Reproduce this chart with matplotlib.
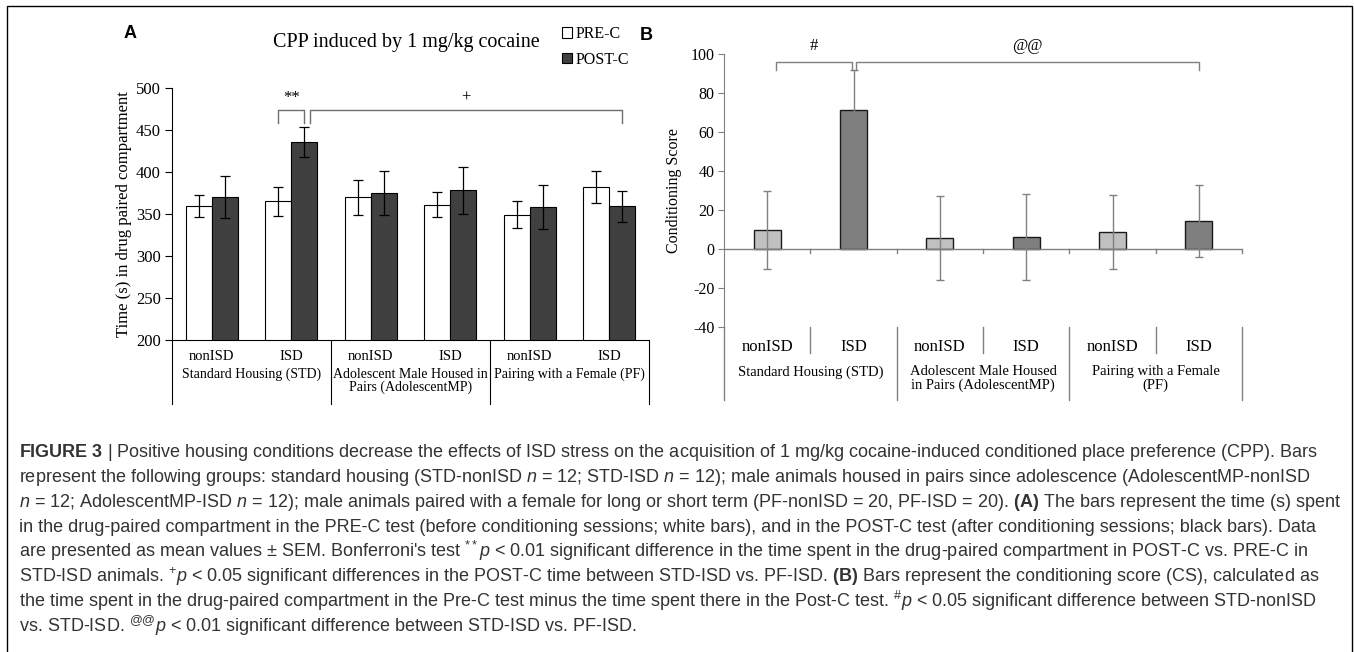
import numpy as np
import matplotlib
matplotlib.use('Agg')
import matplotlib.pyplot as plt
from matplotlib.patches import Rectangle

# ---- data ----
conditions = ['nonISD', 'ISD', 'nonISD', 'ISD', 'nonISD', 'ISD']
groups_a = ['Standard Housing (STD)', 'Adolescent Male Housed in\nPairs (AdolescentMP)',
            'Pairing with a Female (PF)']
groups_b = ['Standard Housing (STD)', 'Adolescent Male Housed\nin Pairs (AdolescentMP)',
            'Pairing with a Female\n(PF)']

pre_mean = [360, 365, 370, 361, 349, 382]
pre_sem = [13, 17, 21, 15, 16, 19]
post_mean = [370, 436, 375, 378, 358, 359]
post_sem = [25, 18, 26, 28, 26, 18]

cs_mean = [9.5, 71.5, 5.5, 6.0, 8.8, 14.5]
cs_sem = [20, 20.5, 21.5, 22, 19, 18.5]

caption_lines = [
    r"$\bf{FIGURE\ 3}$ | Positive housing conditions decrease the effects of ISD stress on the acquisition of 1 mg/kg cocaine-induced conditioned place preference (CPP). Bars",
    r"represent the following groups: standard housing (STD-nonISD $\it{n}$ = 12; STD-ISD $\it{n}$ = 12); male animals housed in pairs since adolescence (AdolescentMP-nonISD",
    r"$\it{n}$ = 12; AdolescentMP-ISD $\it{n}$ = 12); male animals paired with a female for long or short term (PF-nonISD = 20, PF-ISD = 20). $\bf{(A)}$ The bars represent the time (s) spent",
    r"in the drug-paired compartment in the PRE-C test (before conditioning sessions; white bars), and in the POST-C test (after conditioning sessions; black bars). Data",
    r"are presented as mean values ± SEM. Bonferroni's test $^{**}\it{p}$ < 0.01 significant difference in the time spent in the drug-paired compartment in POST-C vs. PRE-C in",
    r"STD-ISD animals. $^{+}\it{p}$ < 0.05 significant differences in the POST-C time between STD-ISD vs. PF-ISD. $\bf{(B)}$ Bars represent the conditioning score (CS), calculated as",
    r"the time spent in the drug-paired compartment in the Pre-C test minus the time spent there in the Post-C test. $^{\#}\it{p}$ < 0.05 significant difference between STD-nonISD",
    r"vs. STD-ISD. $^{@@}\it{p}$ < 0.01 significant difference between STD-ISD vs. PF-ISD.",
]

plt.rcParams['font.family'] = ['Liberation Serif', 'DejaVu Serif']
plt.rcParams['axes.unicode_minus'] = False
plt.rcParams['mathtext.fontset'] = 'custom'
plt.rcParams['mathtext.rm'] = 'Liberation Sans'
plt.rcParams['mathtext.it'] = 'Liberation Sans:italic'
plt.rcParams['mathtext.bf'] = 'Liberation Sans:bold'

W, H = 1354, 652
fig = plt.figure(figsize=(W / 100, H / 100), dpi=100)


def bracket(ax, x0, x1, y, drop, label, ty, color, fs):
    ax.plot([x0, x0, x1, x1], [y - drop, y, y, y - drop], color=color, lw=1.0, clip_on=False)
    ax.text((x0 + x1) / 2, ty, label, ha='center', va='center', fontsize=fs, clip_on=False)


# ---- Panel A ----
axA = fig.add_axes([172 / W, 1 - 340 / H, 477 / W, 252 / H])
x = np.arange(len(conditions))
bw = 0.33
ekw = dict(ecolor='black', elinewidth=0.9, capsize=3.5, capthick=0.9)
pre_bars = axA.bar(x - bw / 2, pre_mean, bw, yerr=pre_sem, color='white', edgecolor='black',
                   linewidth=0.8, error_kw=ekw)
post_bars = axA.bar(x + bw / 2, post_mean, bw, yerr=post_sem, color='#404040', edgecolor='black',
                    linewidth=0.8, error_kw=ekw)
axA.set_xlim(-0.5, 5.5)
axA.set_ylim(200, 500)
axA.set_yticks(np.arange(200, 501, 50))
axA.set_xticks([])
for s in ['top', 'right']:
    axA.spines[s].set_visible(False)
axA.tick_params(axis='y', direction='out', length=5, labelsize=12, pad=3)
axA.set_ylabel('Time (s) in drug paired compartment', fontsize=12, labelpad=3)

tA = axA.get_xaxis_transform()
for i, c in enumerate(conditions):
    axA.text(i, -0.067, c, transform=tA, ha='center', va='center', fontsize=10.5)
for g, name in enumerate(groups_a):
    axA.text(2 * g + 0.5, -0.11, name, transform=tA, ha='center', va='top', fontsize=10,
             linespacing=1.0)
for xb in [-0.5, 1.5, 3.5, 5.5]:
    axA.plot([xb, xb], [0, -0.254], transform=tA, color='black', lw=0.8, clip_on=False)

bracket(axA, 1 - bw / 2, 1 + bw / 2, 474, 16, '**', 488, '#6e6e6e', 12)
bracket(axA, 1.24, 5 + bw / 2, 474, 16, '+', 488, '#6e6e6e', 12)

axA.legend([pre_bars, post_bars], ['PRE-C', 'POST-C'], loc='upper left', frameon=False,
           bbox_to_anchor=(562 / W, 1 - 26 / H), bbox_transform=fig.transFigure,
           handlelength=0.65, handleheight=0.65, handletextpad=0.2, labelspacing=0.6,
           fontsize=11.5, borderpad=0, borderaxespad=0)
fig.text(406 / W, 1 - 43 / H, 'CPP induced by 1 mg/kg cocaine', ha='center', va='center',
         fontsize=14.5)

# ---- Panel B ----
axB = fig.add_axes([724 / W, 1 - 327 / H, 518 / W, 273 / H])
bw2 = 0.31
cs_colors = ['#c0c0c0', '#7f7f7f'] * 3
axB.bar(x, cs_mean, bw2, yerr=cs_sem, color=cs_colors, edgecolor='#1a1a1a', linewidth=1.0,
        error_kw=dict(ecolor='#808080', elinewidth=1.0, capsize=3, capthick=1.0))
axB.set_xlim(-0.5, 5.5)
axB.set_ylim(-40, 100)
axB.set_yticks(np.arange(-40, 101, 20))
axB.set_xticks([])
for s in ['top', 'right', 'bottom']:
    axB.spines[s].set_visible(False)
axB.spines['left'].set_color('#808080')
axB.axhline(0, color='#808080', lw=1.0)
axB.tick_params(axis='y', direction='out', length=4, color='#808080', labelsize=11.5, pad=3)
axB.set_ylabel('Conditioning Score', fontsize=11.5, labelpad=6)

for xb in np.arange(0.5, 6, 1):
    axB.plot([xb, xb], [0, -1.8], color='#808080', lw=1.0, clip_on=False)

tB = axB.get_xaxis_transform()
for i, c in enumerate(conditions):
    axB.text(i, -0.073, c, transform=tB, ha='center', va='center', fontsize=12)
for g, name in enumerate(groups_b):
    axB.text(2 * g + 0.5, -0.14, name, transform=tB, ha='center', va='top', fontsize=10.5,
             linespacing=1.0)
axB.plot([-0.5, -0.5], [0, -0.267], transform=tB, color='#808080', lw=1.0, clip_on=False)
for xb in [0.5, 2.5, 4.5]:
    axB.plot([xb, xb], [0, -0.095], transform=tB, color='#808080', lw=1.0, clip_on=False)
for xb in [1.5, 3.5, 5.5]:
    axB.plot([xb, xb], [0, -0.267], transform=tB, color='#808080', lw=1.0, clip_on=False)

bracket(axB, 0.1, 0.98, 96, 4, '#', 104, '#7f7f7f', 12)
bracket(axB, 1.03, 5.0, 96, 4, '@@', 104, '#7f7f7f', 12)

# panel letters
fig.text(130 / W, 1 - 33 / H, 'A', fontsize=13, fontweight='bold', family='Liberation Sans',
         ha='center', va='center')
fig.text(646 / W, 1 - 35 / H, 'B', fontsize=13, fontweight='bold', family='Liberation Sans',
         ha='center', va='center')

# ---- caption ----
cap_texts = []
for k, line in enumerate(caption_lines):
    t = fig.text(19 / W, 1 - (452 + 25 * k + 5) / H, line, ha='left', va='baseline',
                 fontsize=12, family='Liberation Sans', color='#333333')
    cap_texts.append(t)
renderer = fig.canvas.get_renderer()
w_max = max(t.get_window_extent(renderer).width for t in cap_texts)
scale = 1318 / w_max
for t in cap_texts:
    t.set_fontsize(12 * scale)

# outer frame
fig.patches.append(Rectangle((7 / W, -0.05), (1352 - 7) / W, 1 - 6 / H + 0.05,
                             transform=fig.transFigure, fill=False, edgecolor='black', lw=1.0))

fig.savefig('out.png', dpi=100)
